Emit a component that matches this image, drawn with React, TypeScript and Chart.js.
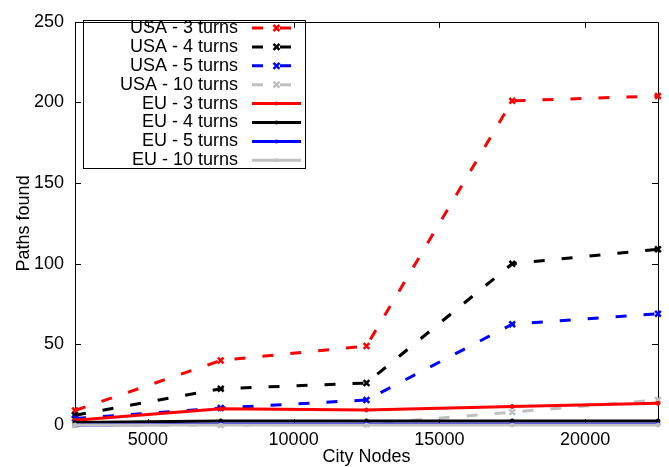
import React, { useEffect, useRef } from "react";
import { Chart, registerables } from "chart.js";
Chart.register(...registerables);

const cityNodes = [2500, 7500, 12500, 17500, 22500];
const usa3 = [9, 40, 49, 201, 204];
const usa4 = [6, 22.5, 26, 100, 109];
const usa5 = [4, 10.5, 15.5, 62.5, 69];
const usa10 = [0, 0, 0.5, 8, 15.5];
const eu3 = [3, 10, 9.3, 11.5, 13.5];
const eu4 = [1.5, 2.5, 2.5, 2.5, 2.5];
const eu5 = [0, 0.5, 0.5, 0.5, 0.5];
const eu10 = [0, 0, 0, 0, 0];

const seriesNames = [
  "USA - 3 turns",
  "USA - 4 turns",
  "USA - 5 turns",
  "USA - 10 turns",
  "EU - 3 turns",
  "EU - 4 turns",
  "EU - 5 turns",
  "EU - 10 turns",
];
const seriesValues = [usa3, usa4, usa5, usa10, eu3, eu4, eu5, eu10];
const seriesColors = ["#ff0000", "#000000", "#0000ff", "#c0c0c0", "#ff0000", "#000000", "#0000ff", "#c0c0c0"];
const seriesDashed = [true, true, true, true, false, false, false, false];

const xTicks = [5000, 10000, 15000, 20000];
const yTicks = [0, 50, 100, 150, 200, 250];
const xTitle = "City Nodes";
const yTitle = "Paths found";

const FONT = '"Liberation Sans", Arial, sans-serif';
const FS = 18;
const DASH = [11, 17];

const framePlugin = {
  id: "frame",
  beforeDatasetsDraw(chart: any) {
    const { ctx, chartArea } = chart;
    const { left, right, top, bottom } = chartArea;
    const xs = chart.scales.x;
    const ys = chart.scales.y;
    ctx.save();
    ctx.strokeStyle = "#000";
    ctx.lineWidth = 1;
    ctx.beginPath();
    ctx.rect(Math.round(left) + 0.5, Math.round(top) + 0.5, Math.round(right - left), Math.round(bottom - top));
    ctx.stroke();
    const tl = 6;
    ctx.beginPath();
    xTicks.forEach((v) => {
      const px = Math.round(xs.getPixelForValue(v)) + 0.5;
      ctx.moveTo(px, bottom);
      ctx.lineTo(px, bottom - tl);
      ctx.moveTo(px, top);
      ctx.lineTo(px, top + tl);
    });
    yTicks.forEach((v) => {
      const py = Math.round(ys.getPixelForValue(v)) + 0.5;
      ctx.moveTo(left, py);
      ctx.lineTo(left + tl, py);
      ctx.moveTo(right, py);
      ctx.lineTo(right - tl, py);
    });
    ctx.stroke();
    ctx.restore();
  },
  afterDraw(chart: any) {
    const { ctx, chartArea } = chart;
    ctx.save();
    ctx.fillStyle = "#000";
    ctx.font = `${FS}px ${FONT}`;
    ctx.textAlign = "center";
    ctx.textBaseline = "middle";
    ctx.fillText(xTitle, (chartArea.left + chartArea.right) / 2, 457);
    ctx.save();
    ctx.translate(24, (chartArea.top + chartArea.bottom) / 2);
    ctx.rotate(-Math.PI / 2);
    ctx.fillText(yTitle, 0, 0);
    ctx.restore();

    const bx = 83.5, by = 20.5, bw = 222, bh = 148;
    ctx.strokeStyle = "#000";
    ctx.lineWidth = 1;
    ctx.strokeRect(bx, by, bw, bh);
    const textRight = 238;
    const x0 = 252, x1 = 301;
    seriesNames.forEach((name, i) => {
      const y = 28 + i * 18.9;
      ctx.fillStyle = "#000";
      ctx.textAlign = "right";
      ctx.textBaseline = "middle";
      ctx.font = `${FS}px ${FONT}`;
      ctx.fillText(name, textRight, y);
      ctx.strokeStyle = seriesColors[i];
      ctx.lineWidth = 3;
      ctx.setLineDash(seriesDashed[i] ? DASH : []);
      ctx.beginPath();
      ctx.moveTo(x0, y);
      ctx.lineTo(x1, y);
      ctx.stroke();
      ctx.setLineDash([]);
      const cx = (x0 + x1) / 2;
      if (seriesDashed[i]) {
        ctx.lineWidth = 2.5;
        const r = 3;
        ctx.beginPath();
        ctx.moveTo(cx - r, y - r);
        ctx.lineTo(cx + r, y + r);
        ctx.moveTo(cx + r, y - r);
        ctx.lineTo(cx - r, y + r);
        ctx.stroke();
      } else {
        ctx.fillStyle = seriesColors[i];
        ctx.beginPath();
        ctx.arc(cx, y, 2, 0, Math.PI * 2);
        ctx.fill();
      }
    });
    ctx.restore();
  },
};

export default function App() {
  const ref = useRef<HTMLCanvasElement>(null);
  useEffect(() => {
    if (!ref.current) return;
    const datasets = seriesNames.map((name, i) => ({
      label: name,
      data: cityNodes.map((x, j) => ({ x, y: seriesValues[i][j] })),
      borderColor: seriesColors[i],
      backgroundColor: seriesColors[i],
      borderWidth: 3,
      borderDash: seriesDashed[i] ? DASH : [],
      pointStyle: seriesDashed[i] ? "crossRot" : "circle",
      pointRadius: seriesDashed[i] ? 4 : 2,
      pointBorderWidth: seriesDashed[i] ? 2.5 : 1,
      pointBorderColor: seriesColors[i],
      pointBackgroundColor: seriesColors[i],
      fill: false,
      tension: 0,
      clip: false as any,
      order: 10 - i,
    }));
    const chart = new Chart(ref.current, {
      type: "line",
      data: { datasets },
      options: {
        animation: false,
        responsive: false,
        devicePixelRatio: 1,
        layout: { padding: { top: 13, right: 11, left: 0, bottom: 0 } },
        plugins: { legend: { display: false }, tooltip: { enabled: false } },
        scales: {
          x: {
            type: "linear",
            min: 2500,
            max: 22500,
            afterBuildTicks: (s: any) => {
              s.ticks = xTicks.map((v) => ({ value: v }));
            },
            afterFit: (s: any) => {
              s.height = 42;
            },
            grid: { display: false, drawTicks: false },
            border: { display: false },
            ticks: {
              color: "#000",
              font: { family: FONT, size: FS },
              padding: 4,
              maxRotation: 0,
              autoSkip: false,
              callback: (v: any) => String(v),
            },
          },
          y: {
            type: "linear",
            min: 0,
            max: 250,
            afterBuildTicks: (s: any) => {
              s.ticks = yTicks.map((v) => ({ value: v }));
            },
            afterFit: (s: any) => {
              s.width = 75;
            },
            grid: { display: false, drawTicks: false },
            border: { display: false },
            ticks: {
              color: "#000",
              font: { family: FONT, size: FS },
              padding: 11,
              autoSkip: false,
              callback: (v: any) => String(v),
            },
          },
        },
      },
      plugins: [framePlugin],
    });
    return () => chart.destroy();
  }, []);
  return (
    <div style={{ position: "fixed", left: 0, top: 0, width: 669, height: 467, background: "#fff" }}>
      <canvas ref={ref} width={669} height={467} style={{ display: "block" }} />
    </div>
  );
}
